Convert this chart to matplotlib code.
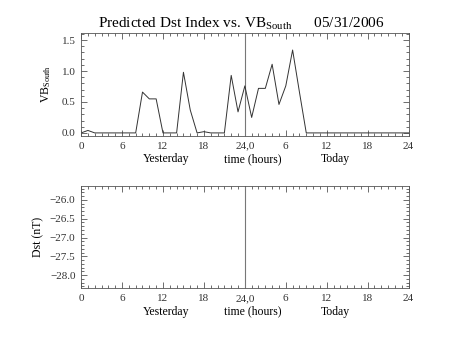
import numpy as np
import matplotlib
matplotlib.use("Agg")
import matplotlib.pyplot as plt
from matplotlib.ticker import MultipleLocator, FuncFormatter

plt.rcParams['font.family'] = ['Liberation Serif', 'DejaVu Serif']
plt.rcParams['mathtext.default'] = 'regular'

# hourly VB_south, yesterday 0h .. today 24h
hours = np.arange(0, 49)
vb_south = [0.0, 0.04, 0.0, 0.0, 0.0, 0.0, 0.0, 0.0, 0.0, 0.66,
            0.55, 0.55, 0.0, 0.0, 0.0, 0.98, 0.37, 0.0, 0.02, 0.0,
            0.0, 0.0, 0.93, 0.34, 0.76, 0.25, 0.72, 0.72, 1.11, 0.46,
            0.76, 1.34, 0.66, 0.0, 0.0, 0.0, 0.0, 0.0, 0.0, 0.0,
            0.0, 0.0, 0.0, 0.0, 0.0, 0.0, 0.0, 0.0, 0.0]
tick_pos = [0, 6, 12, 18, 24, 30, 36, 42, 48]
tick_labels = ['0', '6', '12', '18', '24,0', '6', '12', '18', '24']
title = 'Predicted Dst Index vs. VB$_{South}$      05/31/2006'

fig = plt.figure(figsize=(4.53, 3.40), dpi=100)
ax1 = fig.add_axes([0.179, 0.600, 0.723, 0.302])
ax2 = fig.add_axes([0.179, 0.152, 0.723, 0.301])

fmt = FuncFormatter(lambda v, p: f'{v:.1f}'.replace('-', '\u2212'))


def style(ax):
    ax.set_xlim(0, 48)
    ax.set_xticks(tick_pos)
    ax.set_xticklabels(tick_labels)
    ax.xaxis.set_minor_locator(MultipleLocator(1))
    ax.yaxis.set_major_locator(MultipleLocator(0.5))
    ax.yaxis.set_minor_locator(MultipleLocator(0.1))
    ax.yaxis.set_major_formatter(fmt)
    ax.tick_params(which='both', direction='in', top=True, right=True,
                   width=0.5, labelsize=8, colors='#333333')
    ax.tick_params(which='major', length=4, pad=4)
    ax.tick_params(which='minor', length=2)
    for s in ax.spines.values():
        s.set_linewidth(0.6)
        s.set_color('#555555')
    ax.axvline(24, color='#777777', lw=0.8)
    tr = ax.get_xaxis_transform()
    ax.text(12.4, -0.17, 'Yesterday', transform=tr, ha='center', va='top', fontsize=8.5)
    ax.text(25.2, -0.17, 'time (hours)', transform=tr, ha='center', va='top', fontsize=8.5)
    ax.text(37.2, -0.17, 'Today', transform=tr, ha='center', va='top', fontsize=8.5)


style(ax1)
ax1.plot(hours, vb_south, color='#333333', lw=0.7)
ax1.set_ylim(-0.05, 1.61)
ax1.set_ylabel('VB$_{South}$', fontsize=8.5, labelpad=6)
ax1.set_title(title, fontsize=11, pad=4, x=0.49)

style(ax2)
ax2.set_ylim(-28.35, -25.63)
ax2.set_ylabel('Dst (nT)', fontsize=8.5, labelpad=4)

fig.savefig('out.png', dpi=100)
